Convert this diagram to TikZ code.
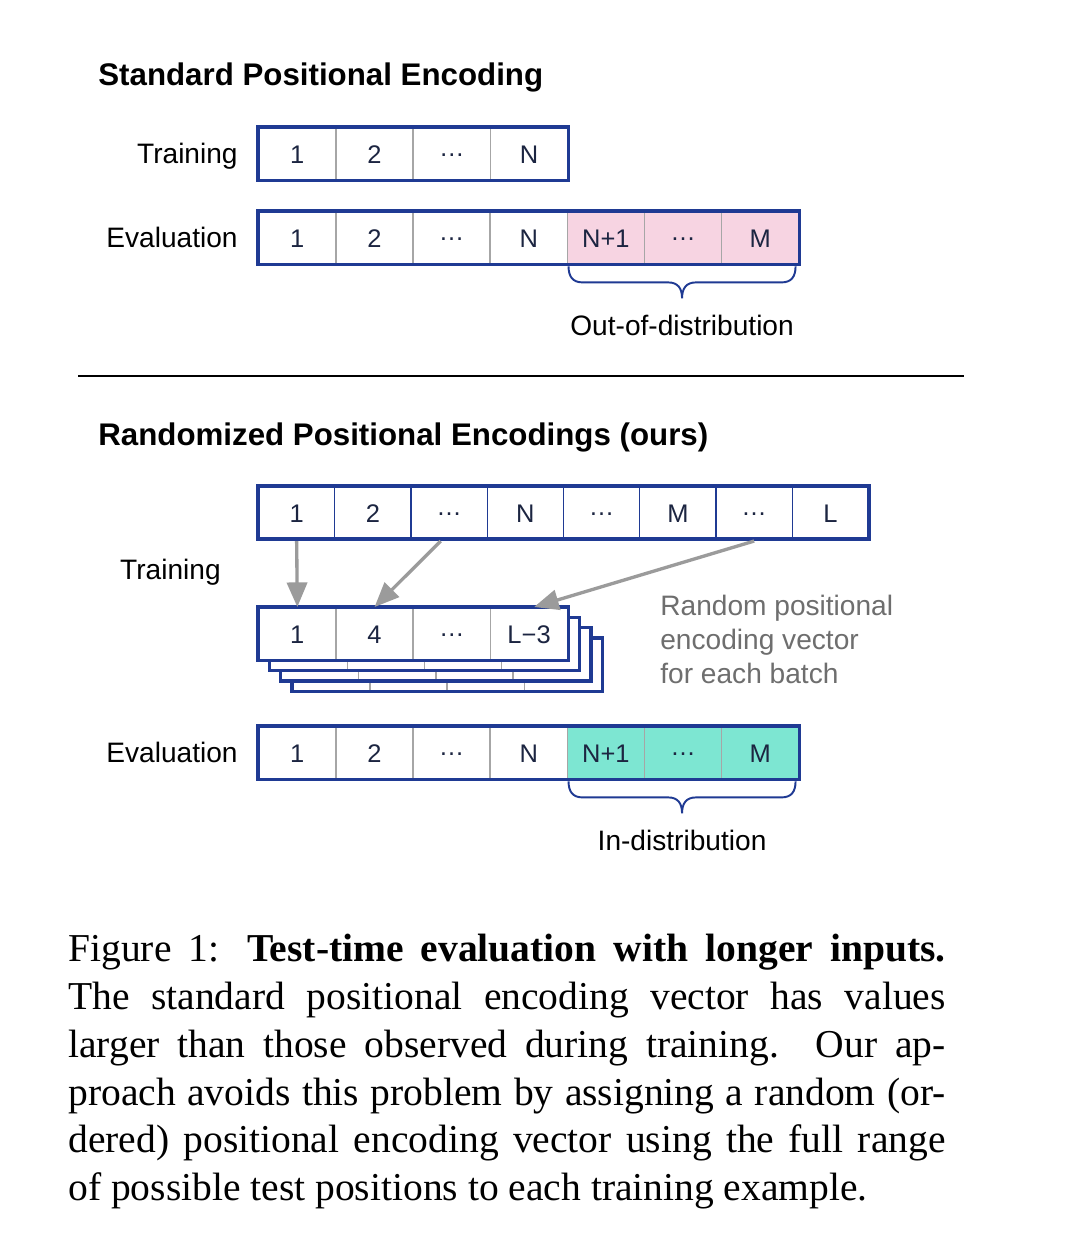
\documentclass[tikz,border=0pt]{standalone}
\usepackage{fontspec}
\setmainfont{Liberation Serif}
\newfontfamily\arialf{Liberation Sans}
\usetikzlibrary{arrows.meta,calc}
\definecolor{navy}{HTML}{1F3A93}
\definecolor{celltext}{HTML}{1C2541}
\definecolor{sepgray}{HTML}{A6A6A6}
\definecolor{pinkc}{HTML}{F7D4E2}
\definecolor{tealc}{HTML}{7DE6D2}
\definecolor{arrgray}{HTML}{9B9B9B}
\definecolor{notegray}{HTML}{6E6E6E}
\newcommand{\mydots}{\raisebox{0.27em}{…}}
\tikzset{
 cell/.style={draw=sepgray, line width=0.8pt, fill=white, minimum width=1.545cm, minimum height=1.04cm, inner sep=0pt, text height=11pt, text depth=0pt, anchor=north west, text=celltext, font=\arialf\fontsize{14.5}{16}\selectfont},
 rcell/.style={cell, draw=navy, line width=0.6pt, minimum width=1.525cm},
 border/.style={draw=navy, line width=2pt},
 rowlabel/.style={anchor=base east, inner sep=0pt, font=\arialf\fontsize{16}{19}\selectfont},
 heading/.style={anchor=base west, inner sep=0pt, font=\arialf\bfseries\fontsize{17.8}{21}\selectfont},
 bracelabel/.style={anchor=base, inner sep=0pt, font=\arialf\fontsize{16}{19}\selectfont},
 brace/.style={draw=navy, line width=1.1pt},
 selarrow/.style={draw=arrgray, line width=1.9pt, -{Triangle[length=14pt,width=11.5pt]}},
}
\begin{document}
\begin{tikzpicture}[x=0.02cm,y=-0.02cm]
\useasboundingbox[fill=white] (0,0) rectangle (1080,1235);

% ---------- Standard ----------
\node[heading] (h1) at (98,85) {Standard Positional Encoding};
\node[rowlabel] (lt1) at (238,163) {Training};
\foreach \t [count=\i] in {1,2,\mydots,N}
  \node[cell] (st\i) at ({258+77.25*(\i-1)},127) {\t};
\draw[border] (st1.north west) rectangle (st4.south east);

\node[rowlabel] (le1) at (238,247) {Evaluation};
\foreach \t/\f [count=\i] in {1/white,2/white,\mydots/white,N/white,N+1/pinkc,\mydots/pinkc,M/pinkc}
  \node[cell,fill=\f] (se\i) at ({258+77.14*(\i-1)},211) {\t};
\draw[border] (se1.north west) rectangle (se7.south east);

\draw[brace] ([xshift=0.04cm,yshift=-0.04cm]se5.south west)
  .. controls +(0,10) and +(-10,0) .. ++(14,16) -- ++(85.5,0)
  .. controls +(10,0) and +(0,-10) .. ++(14,16) coordinate (tip1)
  .. controls +(0,-10) and +(-10,0) .. ++(14,-16) -- ++(85.5,0)
  .. controls +(10,0) and +(0,10) .. ++(14,-16);
\node[bracelabel] (ood) at ($(tip1)+(0,37)$) {Out-of-distribution};

% ---------- divider ----------
\coordinate (dl) at (78,376);
\coordinate (dr) at (964,376);
\draw[line width=1.1pt] (dl) -- (dr);

% ---------- Randomized ----------
\node[heading] (h2) at (98,445) {Randomized Positional Encodings (ours)};
\foreach \t [count=\i] in {1,2,\mydots,N,\mydots,M,\mydots,L}
  \node[rcell] (rt\i) at ({258+76.25*(\i-1)},486) {\t};
\draw[border] (rt1.north west) rectangle (rt8.south east);

\node[rowlabel] (lt2) at (221,579) {Training};

% stacked batches
\foreach \k in {3,2,1}{
  \foreach \i in {1,2,3,4}
    \node[cell] (bk\k-\i) at ({258+11.3*\k+77.25*(\i-1)},{607+10.3*\k}) {};
  \draw[border,fill=none] (bk\k-1.north west) rectangle (bk\k-4.south east);
}
\foreach \t [count=\i] in {1,4,\mydots,L−3}
  \node[cell] (fr\i) at ({258+77.25*(\i-1)},607) {\t};
\draw[border] (fr1.north west) rectangle (fr4.south east);

\draw[selarrow] ([yshift=-0.04cm]rt1.south) -- (fr1.north);
\draw[selarrow] ([xshift=-0.17cm,yshift=-0.04cm]rt3.south) -- (fr2.north);
\draw[selarrow] ([yshift=-0.04cm]rt7.south) -- ([xshift=0.1cm]fr4.north);

\node[anchor=north west, align=left, inner sep=0pt, text=notegray, font=\arialf\fontsize{16}{19.3}\selectfont] (note) at (660,595) {Random positional\\encoding vector\\for each batch};

\node[rowlabel] (le2) at (238,762) {Evaluation};
\foreach \t/\f [count=\i] in {1/white,2/white,\mydots/white,N/white,N+1/tealc,\mydots/tealc,M/tealc}
  \node[cell,fill=\f] (re\i) at ({258+77.14*(\i-1)},726) {\t};
\draw[border] (re1.north west) rectangle (re7.south east);

\draw[brace] ([xshift=0.04cm,yshift=-0.04cm]re5.south west)
  .. controls +(0,10) and +(-10,0) .. ++(14,16) -- ++(85.5,0)
  .. controls +(10,0) and +(0,-10) .. ++(14,16) coordinate (tip2)
  .. controls +(0,-10) and +(-10,0) .. ++(14,-16) -- ++(85.5,0)
  .. controls +(10,0) and +(0,10) .. ++(14,-16);
\node[bracelabel] (ind) at ($(tip2)+(0,37)$) {In-distribution};

% ---------- caption ----------
\node[anchor=north west, inner sep=0pt, text width=17.55cm, align=justify, font=\fontsize{22.5}{27.2}\selectfont] (cap) at (68,934)
{Figure 1: \textbf{Test-time evaluation with longer inputs.}\linebreak
The standard positional encoding vector has values\linebreak
larger than those observed during training. Our ap-\linebreak
proach avoids this problem by assigning a random (or-\linebreak
dered) positional encoding vector using the full range\linebreak
of possible test positions to each training example.};
\end{tikzpicture}
\end{document}
